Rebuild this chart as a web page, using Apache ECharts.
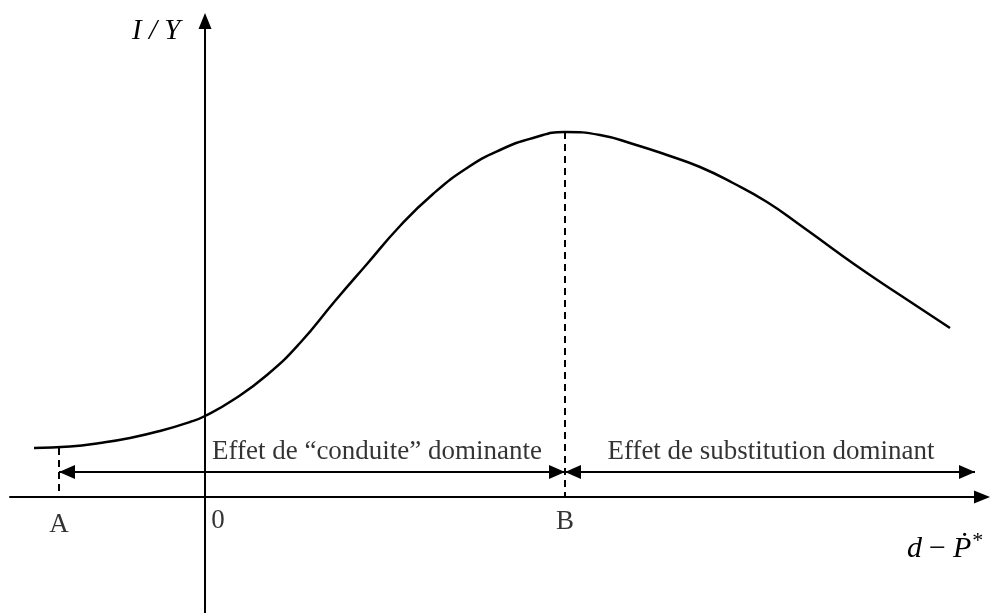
<!DOCTYPE html>
<html>
<head>
<meta charset="utf-8">
<script src="https://cdn.jsdelivr.net/npm/echarts@6/dist/echarts.min.js"></script>
<style>
  html, body { margin: 0; padding: 0; background: #fff; }
  #chart { width: 990px; height: 613px; }
</style>
</head>
<body>
<div id="chart"></div>
<script>
// curve (x: d - P*, y: I/Y), origin at the axes cross
var curveX = [-1.71, -1.35, -1.05, -0.75, -0.45, -0.15, 0, 0.28, 0.62, 0.95, 1.30, 1.62, 1.95, 2.28, 2.62, 2.95, 3.28, 3.60,
  3.95, 4.28, 4.62, 4.95, 5.28, 5.62, 5.95, 6.28, 6.62, 6.95, 7.45];
var curveY = [0.49, 0.505, 0.54, 0.59, 0.66, 0.75, 0.81, 0.97, 1.22, 1.54, 1.96, 2.33, 2.71, 3.03, 3.29, 3.47, 3.59, 3.65,
  3.62, 3.53, 3.42, 3.30, 3.14, 2.95, 2.72, 2.48, 2.24, 2.02, 1.69];

// points on the x axis
var pointNames = ['A', '0', 'B'];
var pointX = [-1.46, 0, 3.60];
var pointTop = [0.49, 0, 3.65]; // top of dashed guide lines

// the two ranges
var rangeNames = ['Effet de “conduite” dominante', 'Effet de substitution dominant'];
var rangeFrom = [-1.46, 3.60];
var rangeTo = [3.60, 7.70];
var rangeLevel = 0.25;

var chart = echarts.init(document.getElementById('chart'));

var serif = '"Liberation Serif", "DejaVu Serif", serif';

var curveData = curveX.map(function (x, i) { return [x, curveY[i]]; });

var guideLines = [];
[0, 2].forEach(function (i) {
  guideLines.push([{ coord: [pointX[i], pointTop[i]] }, { coord: [pointX[i], 0] }]);
});

var rangeLines = rangeFrom.map(function (x, i) {
  return [{ coord: [x, rangeLevel] }, { coord: [rangeTo[i], rangeLevel] }];
});

var option = {
  backgroundColor: '#fff',
  animation: false,
  grid: { left: 10, right: 8, top: 21, bottom: 0 },
  xAxis: {
    type: 'value',
    min: -1.95,
    max: 7.77,
    splitLine: { show: false },
    axisTick: { show: false },
    axisLabel: { show: false },
    axisLine: {
      onZero: true,
      symbol: ['none', 'triangle'],
      symbolSize: [13, 16],
      lineStyle: { color: '#000', width: 2 }
    }
  },
  yAxis: {
    type: 'value',
    min: -1.16,
    max: 4.76,
    splitLine: { show: false },
    axisTick: { show: false },
    axisLabel: { show: false },
    axisLine: {
      onZero: true,
      symbol: ['none', 'triangle'],
      symbolSize: [13, 16],
      lineStyle: { color: '#000', width: 2 }
    }
  },
  series: [
    {
      type: 'line',
      data: curveData,
      smooth: 0.5,
      showSymbol: false,
      lineStyle: { color: '#000', width: 2.5 },
      markLine: {
        silent: true,
        symbol: ['none', 'none'],
        label: { show: false },
        lineStyle: { color: '#000', width: 2, type: [7, 5] },
        data: guideLines
      }
    },
    {
      type: 'line',
      data: [],
      markLine: {
        silent: true,
        symbol: ['triangle', 'triangle'],
        symbolSize: [14, 16],
        symbolOffset: [[0, 8], [0, 8]],
        label: { show: false },
        lineStyle: { color: '#000', width: 2, type: 'solid' },
        data: rangeLines
      }
    },
    {
      type: 'scatter',
      symbolSize: 0,
      data: pointX.map(function (x, i) { return { name: pointNames[i], value: [x, 0] }; }),
      label: {
        show: true,
        position: 'bottom',
        distance: 13,
        formatter: '{b}',
        color: '#000',
        fontFamily: serif,
        fontSize: 27
      },
      labelLayout: function (p) {
        return p.dataIndex === 1 ? { dx: 13, dy: -3 } : (p.dataIndex === 0 ? { dy: 1 } : { dy: -2 });
      }
    },
    {
      type: 'scatter',
      symbolSize: 0,
      data: rangeFrom.map(function (x, i) {
        return { name: rangeNames[i], value: [(x + rangeTo[i]) / 2, rangeLevel] };
      }),
      label: {
        show: true,
        position: 'top',
        distance: 7,
        formatter: '{b}',
        color: '#000',
        fontFamily: serif,
        fontSize: 27
      },
      labelLayout: function (p) {
        return p.dataIndex === 0 ? { dx: 65 } : { dx: 1 };
      }
    }
  ],
  graphic: [
    {
      type: 'text',
      left: 132,
      top: 17,
      style: {
        text: 'I / Y',
        fill: '#000',
        font: 'italic 29px ' + serif
      }
    },
    {
      type: 'text',
      left: 907,
      top: 530,
      style: {
        text: '{i|d}{m|−}{i|Ṗ}{s|*}',
        fill: '#000',
        rich: {
          i: { font: 'italic 30px ' + serif, fill: '#000' },
          m: { font: '30px ' + serif, fill: '#000', padding: [0, 7, 0, 7] },
          s: { font: '22px ' + serif, fill: '#000', verticalAlign: 'top', padding: [0, 0, 16, 1] }
        }
      }
    }
  ]
};

chart.setOption(option);
</script>
</body>
</html>
